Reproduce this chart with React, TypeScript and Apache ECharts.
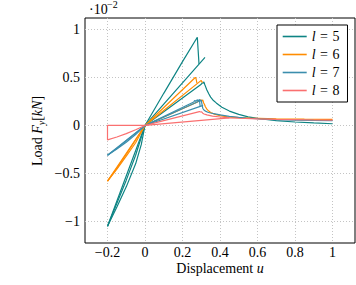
import React, { useEffect, useRef } from 'react';
import * as echarts from 'echarts';

const legendNames = ['l = 5', 'l = 6', 'l = 7', 'l = 8'];
const colors = ['#0e8484', '#ff8c00', '#3b8ead', '#fa7070'];
const xTicks = [-0.2, 0, 0.2, 0.4, 0.6, 0.8, 1];
const yTicks = [-1, -0.5, 0, 0.5, 1];

// l = 5
const l5a = [[-0.2, -1.05], [0, 0], [0.1, 0.335], [0.2, 0.665], [0.279, 0.92], [0.288, 0.64]];
const l5b = [[-0.2, -1.05], [-0.15, -0.81], [-0.1, -0.57], [-0.05, -0.31], [0, 0], [0.32, 0.71]];
const l5c = [[-0.2, -1.05], [-0.15, -0.85], [-0.1, -0.64], [-0.05, -0.4], [-0.02, -0.2], [0, 0],
  [0.3, 0.43], [0.305, 0.445], [0.31, 0.44], [0.314, 0.455], [0.318, 0.43], [0.322, 0.41], [0.33, 0.37],
  [0.34, 0.33], [0.35, 0.295], [0.365, 0.26], [0.38, 0.235], [0.41, 0.19], [0.45, 0.15], [0.5, 0.115],
  [0.55, 0.09], [0.6, 0.073], [0.7, 0.05], [0.8, 0.036], [0.9, 0.026], [1, 0.018]];
// l = 6
const l6a = [[-0.2, -0.58], [0, 0], [0.268, 0.5], [0.272, 0.49], [0.277, 0.44]];
const l6b = [[-0.2, -0.58], [-0.15, -0.455], [-0.1, -0.32], [-0.05, -0.18], [0, 0], [0.3, 0.47], [0.304, 0.45], [0.308, 0.455]];
const l6c = [[-0.2, -0.58], [-0.15, -0.445], [-0.1, -0.3], [-0.05, -0.15], [0, 0],
  [0.28, 0.245], [0.285, 0.26], [0.29, 0.25], [0.296, 0.268], [0.302, 0.255], [0.308, 0.265], [0.313, 0.235],
  [0.318, 0.215], [0.322, 0.195], [0.33, 0.17], [0.34, 0.15], [0.35, 0.135], [0.37, 0.118], [0.4, 0.102],
  [0.44, 0.09], [0.5, 0.082], [0.56, 0.076], [0.7, 0.07], [0.85, 0.066], [1, 0.064]];
// l = 7
const l7a = [[-0.2, -0.31], [0, 0], [0.26, 0.245], [0.266, 0.262], [0.272, 0.25], [0.278, 0.268], [0.284, 0.255], [0.29, 0.272], [0.294, 0.2]];
const l7b = [[-0.2, -0.31], [-0.15, -0.245], [-0.1, -0.175], [-0.05, -0.095], [0, 0], [0.31, 0.21]];
const l7c = [[-0.2, -0.31], [-0.15, -0.237], [-0.1, -0.16], [-0.05, -0.08], [0, 0],
  [0.285, 0.25], [0.29, 0.262], [0.295, 0.255], [0.3, 0.266], [0.304, 0.22], [0.308, 0.18], [0.313, 0.163],
  [0.32, 0.152], [0.335, 0.138], [0.35, 0.13], [0.38, 0.118], [0.4, 0.11], [0.45, 0.095], [0.5, 0.085],
  [0.54, 0.078], [0.61, 0.068], [0.7, 0.061], [0.8, 0.056], [0.9, 0.052], [1, 0.05]];
// l = 8
const l8a = [[0, 0], [-0.05, -0.045], [-0.1, -0.085], [-0.15, -0.12], [-0.2, -0.15], [-0.2, 0], [0, 0],
  [0.1, 0.05], [0.2, 0.1], [0.29, 0.145], [0.296, 0.14], [0.302, 0.142], [0.308, 0.128], [0.315, 0.12],
  [0.33, 0.11], [0.36, 0.098], [0.4, 0.088], [0.45, 0.08], [0.5, 0.075], [0.6, 0.068], [0.7, 0.063],
  [0.8, 0.06], [0.9, 0.057], [1, 0.055]];
const l8b = [[0, 0], [0.45, 0.079]];

const curves = [
  { l: 0, data: l5a }, { l: 0, data: l5b }, { l: 0, data: l5c },
  { l: 1, data: l6a }, { l: 1, data: l6b }, { l: 1, data: l6c },
  { l: 2, data: l7a }, { l: 2, data: l7b }, { l: 2, data: l7c },
  { l: 3, data: l8a }, { l: 3, data: l8b },
];

const FONT = 'Liberation Serif, Times New Roman, serif';
const fmt = (v: number) => (v < 0 ? '\u2212' + Math.abs(v) : String(v));

export default function App() {
  const ref = useRef<HTMLDivElement>(null);
  useEffect(() => {
    const chart = echarts.init(ref.current!, null, { renderer: 'svg' });
    const option: any = {
      animation: false,
      backgroundColor: '#fff',
      textStyle: { fontFamily: FONT },
      grid: {
        left: 85, right: 1, top: 18, bottom: 42,
        show: true, borderColor: '#000', borderWidth: 1, backgroundColor: 'transparent',
        containLabel: false, outerBoundsMode: 'none',
      },
      xAxis: {
        type: 'value', min: -0.32, max: 1.12,
        axisLine: { show: false },
        axisTick: { show: false, customValues: xTicks },
        axisLabel: { customValues: xTicks, formatter: fmt, color: '#000', fontFamily: FONT, fontSize: 14, margin: 2 },
        splitLine: { show: true, lineStyle: { color: '#c4c4c4', type: [1, 2], width: 1 } },
      },
      yAxis: {
        type: 'value', min: -1.225, max: 1.12,
        axisLine: { show: false },
        axisTick: { show: false, customValues: yTicks },
        axisLabel: { customValues: yTicks, formatter: fmt, color: '#000', fontFamily: FONT, fontSize: 14, margin: 5 },
        splitLine: { show: true, lineStyle: { color: '#c4c4c4', type: [1, 2], width: 1 } },
      },
      legend: {
        data: legendNames.map((n) => ({ name: n, icon: 'rect' })),
        orient: 'vertical', left: 277, top: 25,
        itemWidth: 24, itemHeight: 1.6, itemGap: 4,
        padding: [4.5, 8, 4.5, 5.7],
        backgroundColor: '#fff', borderColor: '#000', borderWidth: 1, borderRadius: 0,
        formatter: (name: string) => '{i|l}{e|=}{t|' + name.split('= ')[1] + '}',
        textStyle: {
          color: '#000', fontFamily: FONT, fontSize: 14, lineHeight: 13,
          rich: {
            i: { fontStyle: 'italic', fontFamily: FONT, fontSize: 14, lineHeight: 13, color: '#000' },
            e: { fontFamily: FONT, fontSize: 14, lineHeight: 13, padding: [0, 4.5], color: '#000' },
            t: { fontFamily: FONT, fontSize: 14, lineHeight: 13, color: '#000' },
          },
        },
      },
      series: curves.map((c) => ({
        name: legendNames[c.l],
        type: 'line',
        data: c.data,
        symbol: 'none',
        showSymbol: false,
        silent: true,
        clip: true,
        lineStyle: { width: 1.2, color: colors[c.l] },
        itemStyle: { color: colors[c.l] },
      })),
      graphic: [
        { type: 'text', x: 89, y: 9, style: { text: '\u00b710', fill: '#000', font: '14px ' + FONT, verticalAlign: 'middle', textVerticalAlign: 'middle' } },
        { type: 'text', x: 107, y: 4, style: { text: '\u22122', fill: '#000', font: '10px ' + FONT, verticalAlign: 'middle', textVerticalAlign: 'middle' } },
        {
          type: 'text', x: 220, y: 268,
          style: {
            text: '{r|Displacement }{i|u}', fill: '#000',
            align: 'center', textAlign: 'center', verticalAlign: 'middle', textVerticalAlign: 'middle',
            rich: {
              r: { fontFamily: FONT, fontSize: 14, color: '#000' },
              i: { fontFamily: FONT, fontSize: 14, fontStyle: 'italic', color: '#000' },
            },
          },
        },
        {
          type: 'text', x: 37, y: 131, rotation: Math.PI / 2,
          style: {
            text: '{r|Load }{i|F}{s|y}{r|[}{i|kN}{r|]}', fill: '#000',
            align: 'center', textAlign: 'center', verticalAlign: 'middle', textVerticalAlign: 'middle',
            rich: {
              r: { fontFamily: FONT, fontSize: 14, lineHeight: 18, color: '#000' },
              i: { fontFamily: FONT, fontSize: 14, lineHeight: 18, fontStyle: 'italic', color: '#000' },
              s: { fontFamily: FONT, fontSize: 10, lineHeight: 12, fontStyle: 'italic', verticalAlign: 'bottom', color: '#000' },
            },
          },
        },
      ],
    };
    chart.setOption(option);
    return () => chart.dispose();
  }, []);
  return <div ref={ref} style={{ position: 'fixed', left: 0, top: 0, width: 356, height: 285, background: '#fff' }} />;
}
